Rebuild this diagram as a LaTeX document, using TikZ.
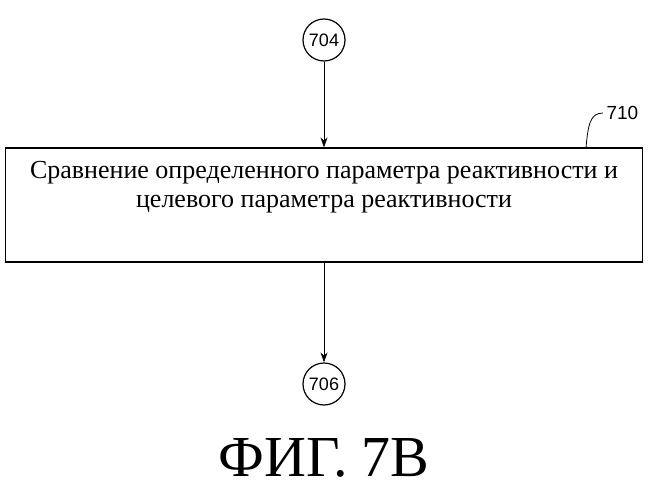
\documentclass[tikz,border=0pt]{standalone}
\usepackage{fontspec}
\setmainfont{Liberation Serif}
\newfontfamily\labelfont{Liberation Sans}
\usetikzlibrary{positioning,arrows.meta}
\begin{document}
\begin{tikzpicture}[x=1pt,y=-1pt,
    conn/.style={circle,draw,very thick,minimum size=42pt,inner sep=0pt,font=\labelfont\fontsize{18}{20}\selectfont},
    stepbox/.style={rectangle,draw,very thick,minimum width=637pt,minimum height=114pt},
    flow/.style={-{Stealth[length=10pt,width=7pt]},thick}]
    \useasboundingbox (0,0) rectangle (648,500);

    % connectors and step
    \node[conn] (c704) at (324,40) {704};
    \node[stepbox] (s710) at (324,205) {};
    \node[align=center,font=\fontsize{26}{29}\selectfont,below=10pt of s710.north] (t710)
        {Сравнение определенного параметра реактивности и\\целевого параметра реактивности};
    \node[conn] (c706) at (324,384) {706};

    % arrows
    \draw[flow] (c704) -- (s710.north);
    \draw[flow] (s710.south) -- (c706);

    % reference numeral
    \node[font=\labelfont\fontsize{19}{20}\selectfont,anchor=west] (n710) at (603,113) {710};
    \draw[thick] (n710.west) .. controls (590,113) and (588,125) .. (586,148);

    % caption
    \node[font=\fontsize{58}{60}\selectfont] (cap) at (324,458) {ФИГ. 7В};
\end{tikzpicture}
\end{document}
